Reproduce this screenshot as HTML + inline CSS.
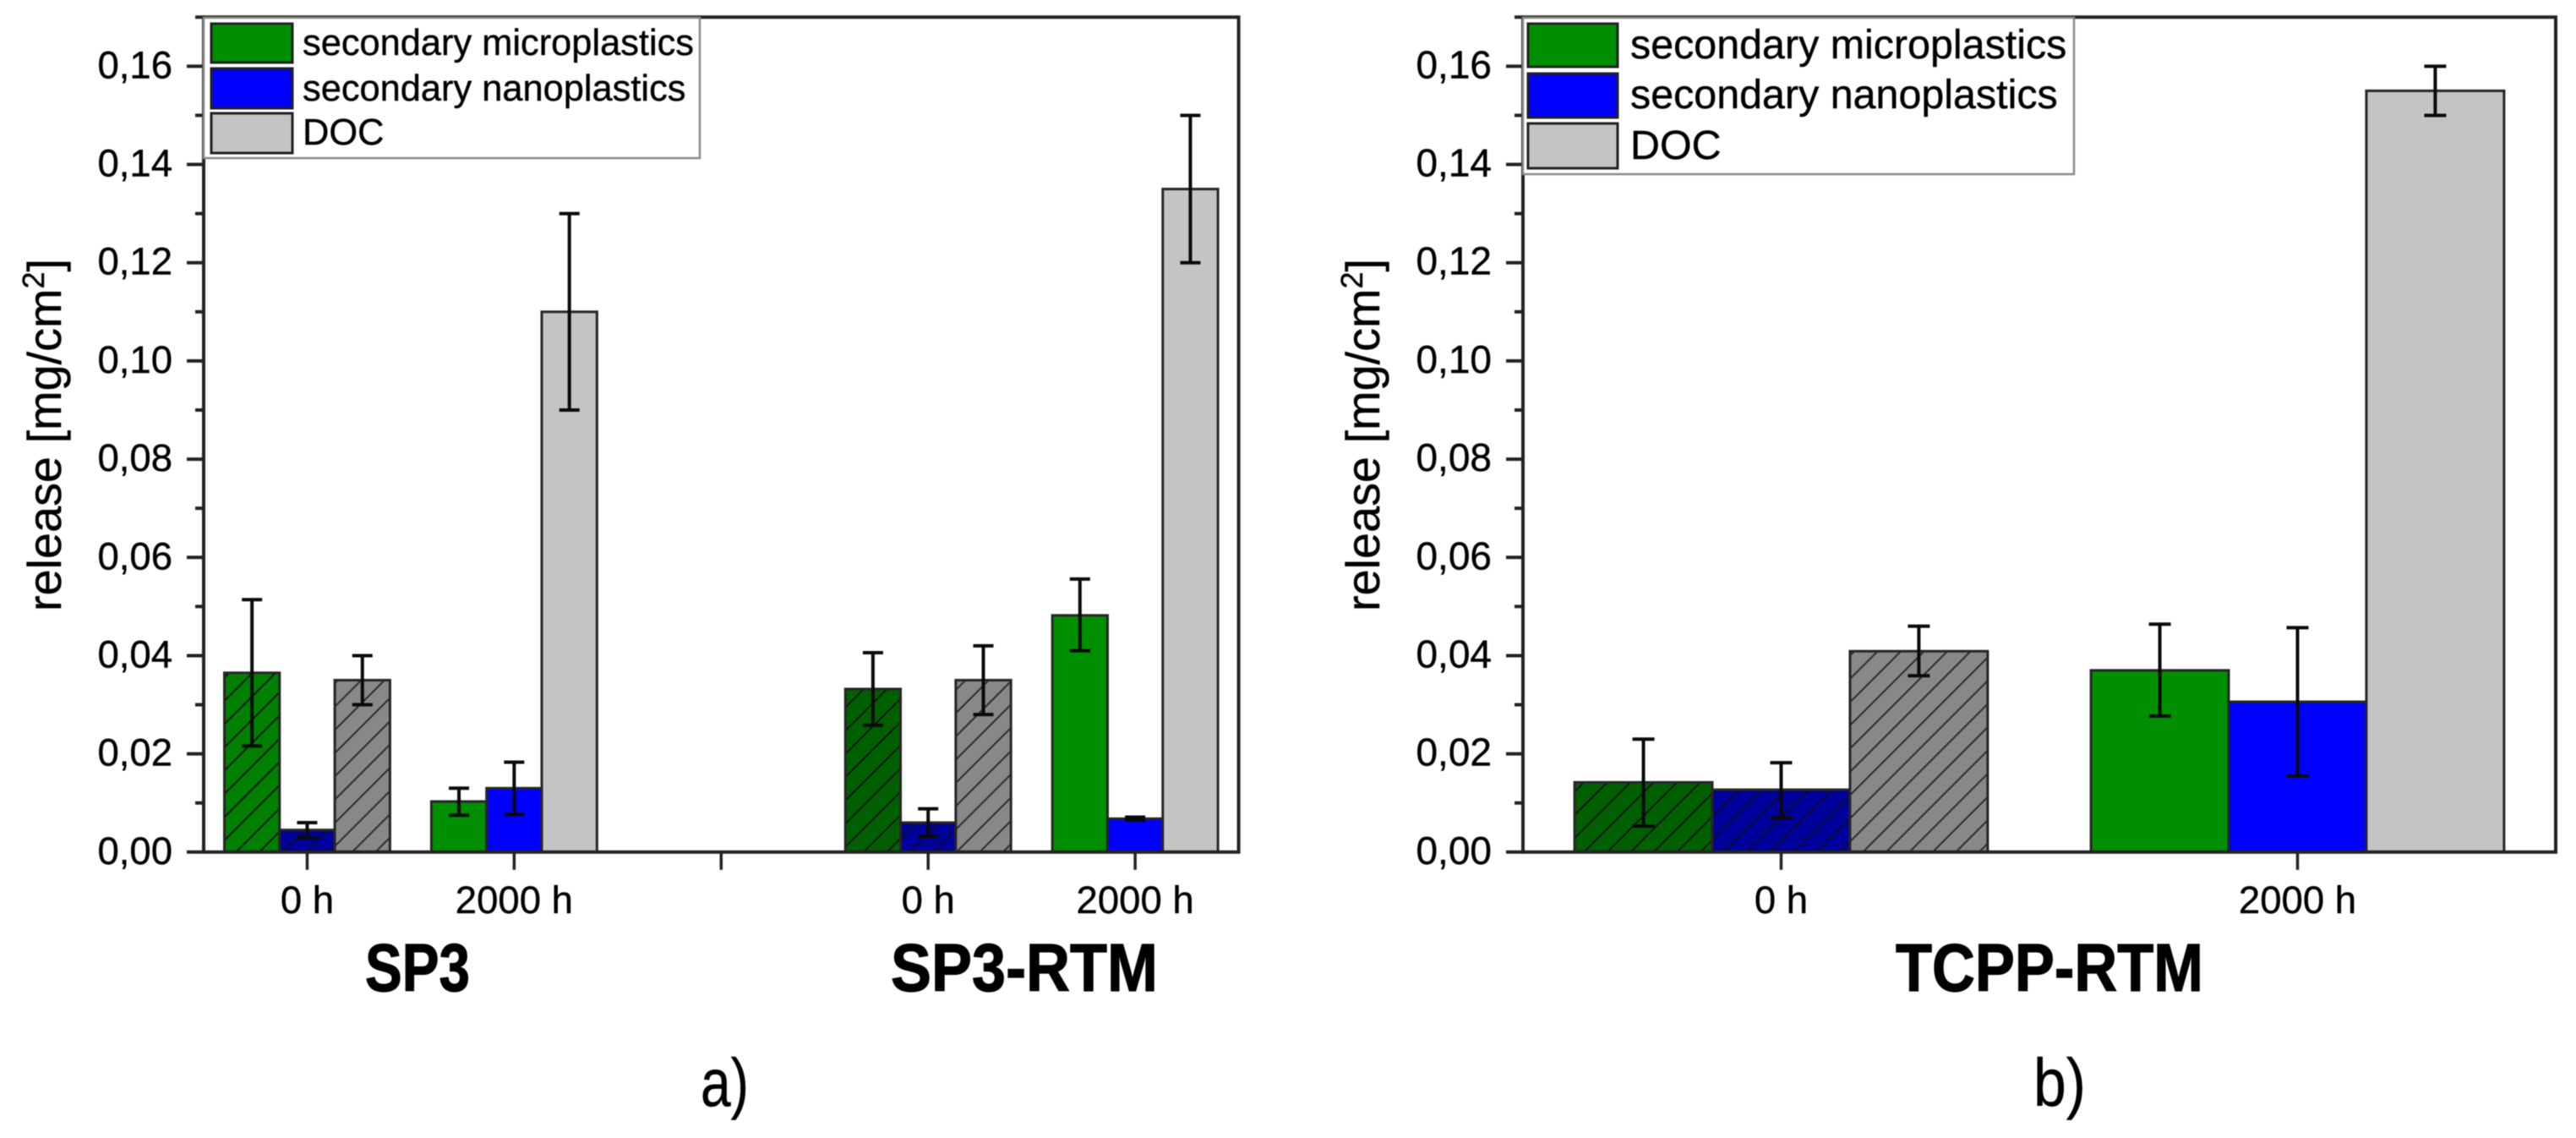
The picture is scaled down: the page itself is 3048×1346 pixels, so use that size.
<!DOCTYPE html>
<html lang="en">
<head>
<meta charset="utf-8">
<title>Release of secondary microplastics, nanoplastics and DOC</title>
<style>
html,body{margin:0;padding:0;background:#fff;width:3048px;height:1346px;overflow:hidden}
svg{display:block;filter:blur(0.6px)}
text{font-family:"Liberation Sans",sans-serif;fill:#000;stroke:#000;stroke-width:.4px}
text.heavy{stroke-width:1.2px}
</style>
</head>
<body>
<svg id="figure" xmlns="http://www.w3.org/2000/svg" width="3048" height="1346" viewBox="0 0 3048 1346">
  <defs>
    <pattern id="hatch-green-bright" patternUnits="userSpaceOnUse" width="27.5" height="27.5" patternTransform="translate(22,0)">
      <rect width="27.5" height="27.5" fill="#008000"/>
      <path d="M-7,7 L7,-7 M0,27.5 L27.5,0 M20.5,34.5 L34.5,20.5" stroke="#0a1a0a" stroke-width="2" fill="none"/>
    </pattern>
    <pattern id="hatch-green" patternUnits="userSpaceOnUse" width="27.5" height="27.5" patternTransform="translate(22,0)">
      <rect width="27.5" height="27.5" fill="#006000"/>
      <path d="M-7,7 L7,-7 M0,27.5 L27.5,0 M20.5,34.5 L34.5,20.5" stroke="#0a1a0a" stroke-width="2" fill="none"/>
    </pattern>
    <pattern id="hatch-blue" patternUnits="userSpaceOnUse" width="27.5" height="27.5" patternTransform="translate(22,0)">
      <rect width="27.5" height="27.5" fill="#00009a"/>
      <path d="M-7,7 L7,-7 M0,27.5 L27.5,0 M20.5,34.5 L34.5,20.5" stroke="#0a0a30" stroke-width="2" fill="none"/>
    </pattern>
    <pattern id="hatch-gray" patternUnits="userSpaceOnUse" width="27.5" height="27.5" patternTransform="translate(22,0)">
      <rect width="27.5" height="27.5" fill="#888888"/>
      <path d="M-7,7 L7,-7 M0,27.5 L27.5,0 M20.5,34.5 L34.5,20.5" stroke="#2c2c2c" stroke-width="2" fill="none"/>
    </pattern>
  </defs>
  <rect width="3048" height="1346" fill="#ffffff"/>
  <g id="panel-a"></g>
  <g id="panel-b"></g>

  <g>
    <rect x="241" y="21" width="587" height="166" fill="#fff" stroke="#8a8a8a" stroke-width="2.5"/>
    <rect x="250" y="28" width="96" height="46" fill="#008f00" stroke="#222" stroke-width="3"/>
    <rect x="250" y="81" width="96" height="47" fill="#0000ff" stroke="#222" stroke-width="3"/>
    <rect x="250" y="134" width="96" height="47" fill="#c4c4c4" stroke="#222" stroke-width="3"/>
    <text x="358" y="65" font-size="43.4">secondary microplastics</text>
    <text x="358" y="119" font-size="43.4">secondary nanoplastics</text>
    <text x="358" y="171" font-size="43.4">DOC</text>
  </g>

  <g>
    <rect x="1802" y="21" width="652" height="185" fill="#fff" stroke="#8a8a8a" stroke-width="2.5"/>
    <rect x="1808" y="28" width="106" height="51" fill="#008f00" stroke="#222" stroke-width="3"/>
    <rect x="1808" y="87" width="106" height="52" fill="#0000ff" stroke="#222" stroke-width="3"/>
    <rect x="1808" y="146" width="106" height="53" fill="#c4c4c4" stroke="#222" stroke-width="3"/>
    <text x="1929" y="69" font-size="48.4">secondary microplastics</text>
    <text x="1929" y="128" font-size="48.4">secondary nanoplastics</text>
    <text x="1929" y="188" font-size="48.4">DOC</text>
  </g>

  <text transform="translate(72,723) rotate(-90)" font-size="56" textLength="417" lengthAdjust="spacingAndGlyphs">release [mg/cm<tspan baseline-shift="super" font-size="36">2</tspan>]</text>
  <text transform="translate(1632,723) rotate(-90)" font-size="56" textLength="417" lengthAdjust="spacingAndGlyphs">release [mg/cm<tspan baseline-shift="super" font-size="36">2</tspan>]</text>

  <text class="heavy" x="432" y="1172" font-size="80" font-weight="700" textLength="124" lengthAdjust="spacingAndGlyphs">SP3</text>
  <text class="heavy" x="1054" y="1172" font-size="80" font-weight="700" textLength="316" lengthAdjust="spacingAndGlyphs">SP3-RTM</text>
  <text class="heavy" x="2243" y="1172" font-size="80" font-weight="700" textLength="364" lengthAdjust="spacingAndGlyphs">TCPP-RTM</text>
  <text x="829" y="1308" font-size="80" textLength="57" lengthAdjust="spacingAndGlyphs">a)</text>
  <text x="2406" y="1308" font-size="80" textLength="62" lengthAdjust="spacingAndGlyphs">b)</text>
</svg>

<script>
// Shared y axis
const yTickValues = [0, 0.02, 0.04, 0.06, 0.08, 0.10, 0.12, 0.14, 0.16];
const yTickLabels = ['0,00', '0,02', '0,04', '0,06', '0,08', '0,10', '0,12', '0,14', '0,16'];
const yMinorTickValues = [0.01, 0.03, 0.05, 0.07, 0.09, 0.11, 0.13, 0.15, 0.17];

// Panel a data
const panelACategories = ['0 h', '2000 h', '', '0 h', '2000 h'];
const panelAHatched = [true, false, false, true, false];
const panelAMicro = [0.0365, 0.0103, null, 0.0332, 0.0482];
const panelAMicroLow = [0.0216, 0.0075, null, 0.0258, 0.0410];
const panelAMicroHigh = [0.0514, 0.0130, null, 0.0406, 0.0556];
const panelANano = [0.0045, 0.0130, null, 0.0060, 0.0068];
const panelANanoLow = [0.0029, 0.0077, null, 0.0032, 0.0065];
const panelANanoHigh = [0.0060, 0.0183, null, 0.0088, 0.0071];
const panelADoc = [0.0350, 0.1100, null, 0.0350, 0.1350];
const panelADocLow = [0.0300, 0.0900, null, 0.0280, 0.1200];
const panelADocHigh = [0.0400, 0.1300, null, 0.0420, 0.1500];

// Panel b data
const panelBCategories = ['0 h', '2000 h'];
const panelBHatched = [true, false];
const panelBMicro = [0.0142, 0.0370];
const panelBMicroLow = [0.0053, 0.0277];
const panelBMicroHigh = [0.0230, 0.0464];
const panelBNano = [0.0127, 0.0306];
const panelBNanoLow = [0.0070, 0.0155];
const panelBNanoHigh = [0.0182, 0.0457];
const panelBDoc = [0.0409, 0.1550];
const panelBDocLow = [0.0359, 0.1500];
const panelBDocHigh = [0.0460, 0.1600];

const NS = 'http://www.w3.org/2000/svg';
const Y_ZERO = 1007.8;
const Y_PER_UNIT = 5809;
const yScale = function (v) { return Y_ZERO - v * Y_PER_UNIT; };

function shape(parent, tag, attrs) {
  const el = document.createElementNS(NS, tag);
  Object.keys(attrs).forEach(function (k) { el.setAttribute(k, attrs[k]); });
  parent.appendChild(el);
  return el;
}

function drawPanel(groupId, prefix, opts, categories, hatched, seriesList) {
  const root = document.getElementById(groupId);
  const step = (opts.right - opts.left) / categories.length;
  const xScale = function (i) { return opts.left + step * (i + 0.5); };
  const barW = step * 0.8 / 3;

  seriesList.forEach(function (series, s) {
    series.values.forEach(function (v, i) {
      if (v === null) return;
      const hatchFill = (series.firstHatch && i === 0) ? series.firstHatch : series.hatch;
      const bar = shape(root, 'rect', {
        x: xScale(i) + (s - 1.5) * barW,
        y: yScale(v),
        width: barW,
        height: yScale(0) - yScale(v),
        fill: hatched[i] ? hatchFill : series.fill,
        stroke: '#262626',
        'stroke-width': 3
      });
      
      
    });
  });

  seriesList.forEach(function (series, s) {
    series.values.forEach(function (v, i) {
      if (v === null) return;
      const cx = xScale(i) + (s - 1) * barW;
      const yLow = yScale(series.low[i]);
      const yHigh = yScale(series.high[i]);
      const d = 'M' + cx + ',' + yLow + ' L' + cx + ',' + yHigh +
        ' M' + (cx - opts.cap) + ',' + yHigh + ' L' + (cx + opts.cap) + ',' + yHigh +
        ' M' + (cx - opts.cap) + ',' + yLow + ' L' + (cx + opts.cap) + ',' + yLow;
      const err = shape(root, 'path', { d: d, stroke: '#0a0a0a', 'stroke-width': 4, fill: 'none' });
      
      
    });
  });

  const top = yScale(0.17);
  const frame = shape(root, 'rect', {
    x: opts.left, y: top, width: opts.right - opts.left, height: yScale(0) - top,
    fill: 'none', stroke: '#222', 'stroke-width': 4
  });
  
  

  yTickValues.forEach(function (v, i) {
    const tick = shape(root, 'line', {
      x1: opts.left - 20, x2: opts.left, y1: yScale(v), y2: yScale(v),
      stroke: '#222', 'stroke-width': 4
    });
    
    
    const label = shape(root, 'text', {
      x: opts.left - opts.labelGap, y: yScale(v) + 14,
      'font-size': opts.tickFont, 'text-anchor': 'end'
    });
    label.textContent = yTickLabels[i];
    
    
  });

  yMinorTickValues.forEach(function (v) {
    const tick = shape(root, 'line', {
      x1: opts.left - 10, x2: opts.left, y1: yScale(v), y2: yScale(v),
      stroke: '#222', 'stroke-width': 4
    });
    
    
  });

  categories.forEach(function (name, i) {
    const tick = shape(root, 'line', {
      x1: xScale(i), x2: xScale(i), y1: yScale(0), y2: yScale(0) + 21,
      stroke: '#222', 'stroke-width': 3.5
    });
    
    
    if (name) {
      const label = shape(root, 'text', {
        x: xScale(i), y: 1080, 'font-size': 45.5, 'text-anchor': 'middle'
      });
      label.textContent = name;
      
      
    }
  });
}

drawPanel('panel-a', 'panel-a',
  { left: 241, right: 1465.6, cap: 12, labelGap: 37, tickFont: 45.5 },
  panelACategories, panelAHatched,
  [
    { key: 'microplastics', fill: '#008f00', hatch: 'url(#hatch-green)', firstHatch: 'url(#hatch-green-bright)', values: panelAMicro, low: panelAMicroLow, high: panelAMicroHigh },
    { key: 'nanoplastics', fill: '#0000ff', hatch: 'url(#hatch-blue)', values: panelANano, low: panelANanoLow, high: panelANanoHigh },
    { key: 'doc', fill: '#c4c4c4', hatch: 'url(#hatch-gray)', values: panelADoc, low: panelADocLow, high: panelADocHigh }
  ]);

drawPanel('panel-b', 'panel-b',
  { left: 1802, right: 3024, cap: 13, labelGap: 37, tickFont: 46 },
  panelBCategories, panelBHatched,
  [
    { key: 'microplastics', fill: '#008f00', hatch: 'url(#hatch-green)', values: panelBMicro, low: panelBMicroLow, high: panelBMicroHigh },
    { key: 'nanoplastics', fill: '#0000ff', hatch: 'url(#hatch-blue)', values: panelBNano, low: panelBNanoLow, high: panelBNanoHigh },
    { key: 'doc', fill: '#c4c4c4', hatch: 'url(#hatch-gray)', values: panelBDoc, low: panelBDocLow, high: panelBDocHigh }
  ]);
</script>
</body>
</html>
